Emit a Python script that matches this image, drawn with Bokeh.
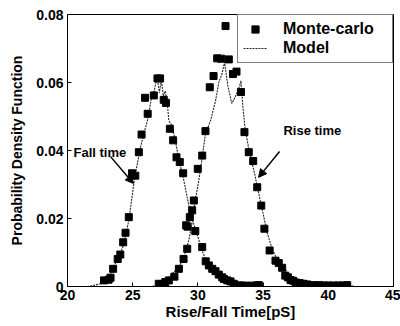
from bokeh.plotting import figure
from bokeh.models import (ColumnDataSource, Legend, LegendItem, FixedTicker,
                          Arrow, NormalHead, Label, Range1d)
from bokeh.embed import file_html
from bokeh.resources import INLINE

# ---- data ----
mc_fall_x = [22.8, 23.15, 23.3, 23.5, 23.85, 24.05, 24.27, 24.45, 24.7, 24.95, 25.2, 25.47,
             25.68, 25.95, 26.15, 26.62, 26.9, 27.1, 27.38, 27.55, 27.85, 28.1, 28.36, 28.61,
             28.87, 29.1, 29.2, 29.8, 30.33, 30.6, 30.84, 31.1, 31.35, 31.6, 31.86, 32.0,
             32.25, 32.5, 32.75, 33.14, 33.3, 33.52, 33.7, 33.9, 34.1, 34.3, 34.5, 34.67]
mc_fall_y = [0.0018, 0.0020, 0.0026, 0.0052, 0.0081, 0.0094, 0.0130, 0.0158, 0.0204, 0.0333,
             0.0326, 0.0395, 0.0447, 0.0555, 0.0508, 0.0562, 0.0612, 0.0612, 0.0549, 0.0540,
             0.0464, 0.0430, 0.0380, 0.0366, 0.0333, 0.0180, 0.0176, 0.0163, 0.0116, 0.0074,
             0.0062, 0.0052, 0.0045, 0.0035, 0.0027, 0.0022, 0.0018, 0.0015, 0.0008, 0.0003,
             0.0003, 0.0002, 0.0002, 0.0002, 0.0002, 0.0002, 0.0003, 0.0004]

mc_rise_x = [27.0, 27.26, 27.5, 27.77, 28.2, 28.54, 28.9, 29.18, 29.38, 29.56, 29.69, 29.99,
             30.33, 30.58, 30.91, 31.2, 31.48, 31.79, 32.12, 32.37, 32.69, 32.96, 33.3, 33.57,
             33.9, 34.24, 34.55, 34.86, 35.1, 35.5, 35.95, 36.2, 36.46, 36.7, 36.9, 37.1, 37.3,
             37.5, 37.8, 38.1, 38.4, 38.9, 39.3, 39.65, 40.0, 40.4, 40.8, 41.1, 41.45]
mc_rise_y = [0.0008, 0.0006, 0.0013, 0.0018, 0.0029, 0.0052, 0.0081, 0.0111, 0.0204, 0.0224,
             0.0253, 0.0346, 0.0385, 0.0457, 0.0586, 0.0619, 0.0671, 0.0670, 0.0766, 0.0668,
             0.0625, 0.0632, 0.0572, 0.0454, 0.0395, 0.0369, 0.0292, 0.0238, 0.0170, 0.0106,
             0.0076, 0.0069, 0.0055, 0.0032, 0.0027, 0.0019, 0.0017, 0.0012, 0.0010, 0.0008,
             0.0006, 0.0004, 0.0004, 0.0003, 0.0003, 0.0003, 0.0003, 0.0003, 0.0004]

model_fall_x = [21.5, 22.0, 22.5, 23.0, 23.3, 23.6, 24.0, 24.3, 24.7, 25.14, 25.6, 25.9, 26.16,
                26.5, 26.65, 26.8, 26.9, 27.05, 27.2, 27.35, 27.5, 27.65, 27.77, 28.0, 28.3,
                28.5, 28.92, 29.43, 29.8, 30.33, 30.7, 31.2, 31.7, 32.3, 33.0, 34.0, 35.0]
model_fall_y = [0.0, 0.0003, 0.0008, 0.0018, 0.0035, 0.0062, 0.0092, 0.0122, 0.0194, 0.0317,
                0.0410, 0.0455, 0.0493, 0.0567, 0.0575, 0.0605, 0.0610, 0.0570, 0.0608, 0.0560,
                0.0575, 0.0540, 0.0488, 0.0474, 0.0424, 0.0380, 0.0312, 0.0214, 0.0170, 0.0106,
                0.0067, 0.0040, 0.0023, 0.0014, 0.0008, 0.0003, 0.0001]

model_rise_x = [26.5, 27.0, 27.5, 27.9, 28.3, 28.67, 29.0, 29.3, 29.56, 29.8, 30.07, 30.33,
                30.58, 30.97, 31.35, 31.6, 31.85, 32.04, 32.3, 32.6, 32.9, 33.2, 33.3, 33.45,
                33.6, 33.9, 34.3, 34.8, 35.3, 35.7, 36.0, 36.5, 37.0, 37.5, 38.0, 39.0, 40.0,
                41.0, 42.0]
model_rise_y = [0.0, 0.0008, 0.0018, 0.0032, 0.0048, 0.0067, 0.0095, 0.0135, 0.0189, 0.0253,
                0.0312, 0.0380, 0.0450, 0.0488, 0.0545, 0.0600, 0.0625, 0.0660, 0.0590, 0.0538,
                0.0560, 0.0590, 0.0605, 0.0530, 0.0470, 0.0405, 0.0340, 0.0250, 0.0160, 0.0110,
                0.0085, 0.0065, 0.0030, 0.0018, 0.0010, 0.0005, 0.0003, 0.0002, 0.0001]

x_ticks = [20, 25, 30, 35, 40, 45]
y_ticks = [0, 0.02, 0.04, 0.06, 0.08]
y_tick_labels = ["0", "0.02", "0.04", "0.06", "0.08"]

series_names = ["Monte-carlo", "Model"]
x_label = "Rise/Fall Time[pS]"
y_label = "Probability Density Function"

ann_texts = ["Fall time", "Rise time"]
ann_text_pos = [(20.46, 0.0394), (36.56, 0.0459)]
ann_arrows = [((23.3, 0.0382), (25.06, 0.0303)), ((36.26, 0.0397), (34.65, 0.0321))]

FONT = "Liberation Sans"

p = figure(width=400, height=326, output_backend="svg", toolbar_location=None,
           x_range=Range1d(20, 45), y_range=Range1d(0, 0.08),
           min_border_left=67, min_border_right=7, min_border_top=14, min_border_bottom=40)
p.background_fill_color = "white"
p.border_fill_color = "white"
p.outline_line_color = "black"
p.outline_line_width = 1
p.grid.visible = False

for ax in (p.xaxis[0], p.yaxis[0]):
    ax.major_tick_in = 4
    ax.major_tick_out = 0
    ax.minor_tick_in = 0
    ax.minor_tick_out = 0
    ax.axis_line_color = "black"
    ax.major_label_text_font = FONT
    ax.major_label_text_font_style = "bold"
    ax.major_label_text_font_size = "14px"
    ax.major_label_text_color = "black"
    ax.axis_label_text_font = FONT
    ax.axis_label_text_font_style = "bold"
    ax.axis_label_text_color = "black"

p.xaxis[0].axis_label_text_font_size = "15px"
p.yaxis[0].axis_label_text_font_size = "14px"
p.xaxis[0].ticker = FixedTicker(ticks=x_ticks)
p.yaxis[0].ticker = FixedTicker(ticks=y_ticks)
p.yaxis[0].major_label_overrides = {t: l for t, l in zip(y_ticks, y_tick_labels)}
p.xaxis[0].axis_label = x_label
p.yaxis[0].axis_label = y_label
p.xaxis[0].major_label_standoff = 3
p.xaxis[0].axis_label_standoff = 0
p.yaxis[0].major_label_standoff = 4
p.yaxis[0].axis_label_standoff = 8

src_mc_fall = ColumnDataSource(dict(x=mc_fall_x, y=mc_fall_y))
src_mc_rise = ColumnDataSource(dict(x=mc_rise_x, y=mc_rise_y))
src_mod_fall = ColumnDataSource(dict(x=model_fall_x, y=model_fall_y))
src_mod_rise = ColumnDataSource(dict(x=model_rise_x, y=model_rise_y))

line_kw = dict(line_color="#222222", line_width=1.1, line_dash="2 1")
l1 = p.line("x", "y", source=src_mod_fall, **line_kw)
l2 = p.line("x", "y", source=src_mod_rise, **line_kw)
m1 = p.scatter("x", "y", source=src_mc_fall, marker="square", size=7,
               fill_color="black", line_color="black")
m2 = p.scatter("x", "y", source=src_mc_rise, marker="square", size=7,
               fill_color="black", line_color="black")

legend = Legend(items=[LegendItem(label=series_names[0], renderers=[m1]),
                       LegendItem(label=series_names[1], renderers=[l1])],
                location="top_right", margin=0, padding=5, spacing=1,
                glyph_width=24, glyph_height=18, label_height=18, label_width=104,
                label_standoff=16,
                label_text_font=FONT, label_text_font_style="bold",
                label_text_font_size="16px", label_text_color="black",
                border_line_color="black", border_line_width=1,
                background_fill_color="white", background_fill_alpha=1)
p.add_layout(legend, "center")

for txt, (tx, ty) in zip(ann_texts, ann_text_pos):
    p.add_layout(Label(x=tx, y=ty, text=txt, text_font=FONT, text_font_style="bold",
                       text_font_size="13px", text_color="black", text_baseline="middle"))
for (x0, y0), (x1, y1) in ann_arrows:
    p.add_layout(Arrow(x_start=x0, y_start=y0, x_end=x1, y_end=y1, line_width=1.5,
                       line_color="black",
                       end=NormalHead(size=8, fill_color="black", line_color="black")))

open("out.html", "w").write(file_html(p, INLINE))
